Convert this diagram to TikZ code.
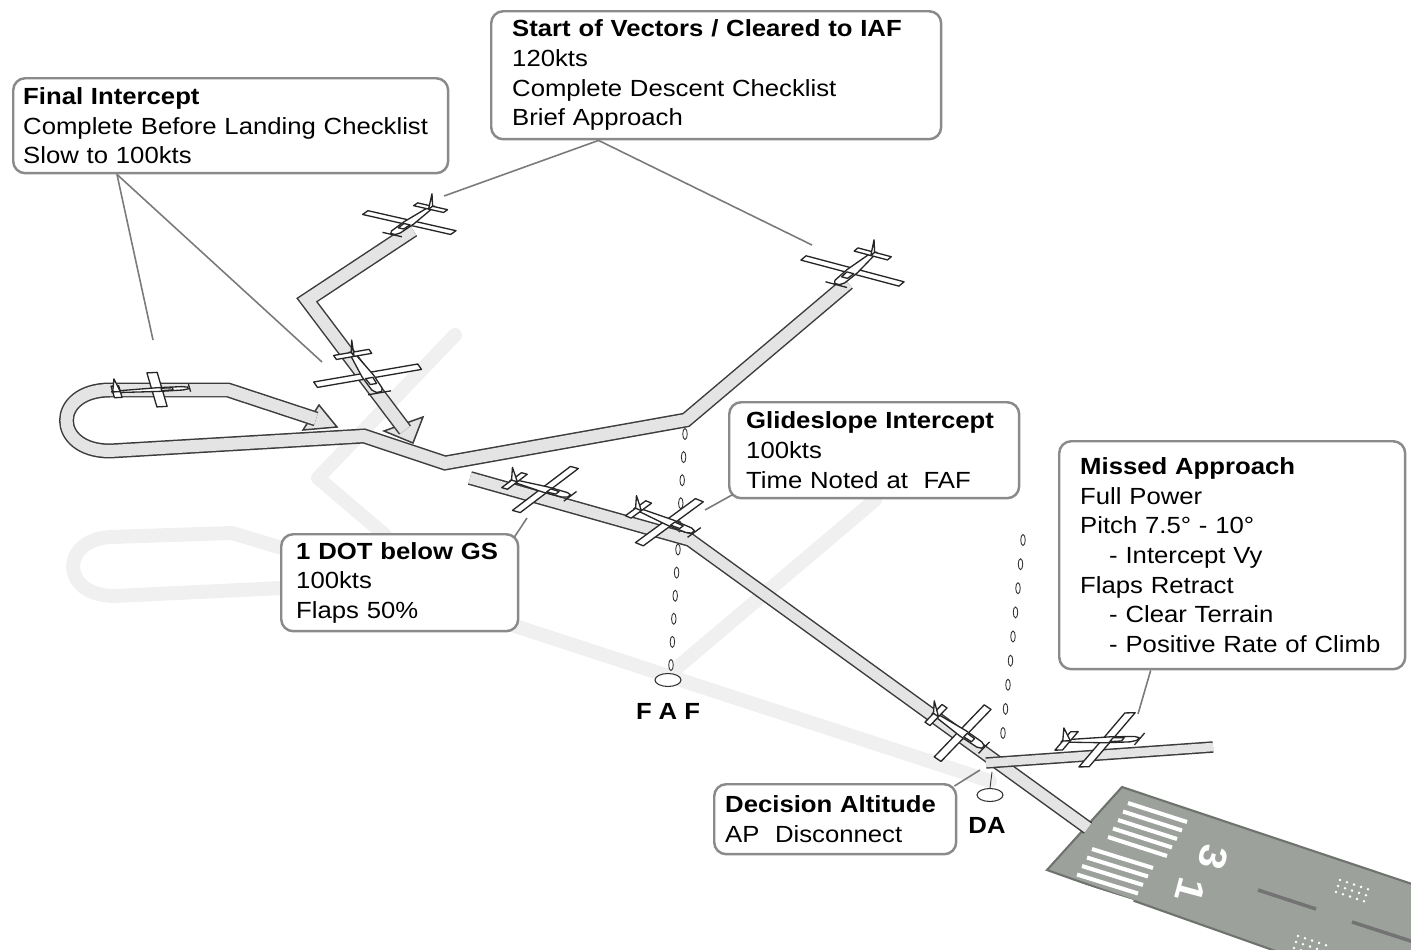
\documentclass[tikz,border=0pt]{standalone}
\usepackage{fontspec}
\setmainfont{Liberation Sans}[FakeStretch=1.1]
\usepackage{tikz}
\usetikzlibrary{shapes.geometric, positioning, calc}

\definecolor{shadowgray}{HTML}{F0F0F0}
\definecolor{ribbonfill}{HTML}{E4E4E4}
\definecolor{ribbonedge}{HTML}{3C3C3C}
\definecolor{boxedge}{HTML}{8A8A8A}
\definecolor{leadergray}{HTML}{7A7A7A}
\definecolor{runway}{HTML}{9CA19C}
\definecolor{runwayedge}{HTML}{6E736E}

\newcommand{\boxfont}{\fontsize{13.3}{16.9}\selectfont}

\tikzset{
  shadowpath/.style={draw=shadowgray, line width=0.28cm, line cap=round, line join=round},
  ribbon/.style={preaction={draw=ribbonedge, line width=#1+1.7pt}, draw=ribbonfill, line width=#1},
  ribbon/.default=0.24cm,
  ribbonhead/.style={fill=ribbonfill, draw=ribbonedge, line width=0.85pt, line join=miter},
  callout/.style={draw=boxedge, line width=1.4pt, rounded corners=0.24cm, fill=white,
    align=left, anchor=north west, inner ysep=0pt, font=\boxfont},
  leader/.style={draw=leadergray, line width=0.9pt},
  marker/.style={draw=black!80, fill=white, line width=0.5pt},
  oval/.style={draw=black!80, fill=white, ellipse, line width=0.6pt, inner sep=0pt,
    minimum width=0.52cm, minimum height=0.26cm},
  marklabel/.style={font=\boxfont\bfseries, inner sep=0pt},
  barwhite/.style={draw=white, line width=2.3pt},
  rwydigit/.style={rotate=-105, text=white, inner sep=0pt, font=\bfseries\fontsize{22}{22}\selectfont},
  planeline/.style={draw=black!85, fill=white, line width=0.75pt, line join=round},
  pics/plane/.style n args={4}{code={
    \begin{scope}[x={({#1*0.02cm},{-#2*0.02cm})}, y={({#3*0.02cm},{-#4*0.02cm})}]
      % wing
      \draw[planeline] (0.05,-1) -- (0.32,-1) -- (0.32,1) -- (0.05,1) -- cycle;
      % fuselage
      \draw[planeline] (-1,0.04) -- (0.2,0.11) -- (0.85,0.1) -- (1,0.05) -- (1,-0.05)
        -- (0.85,-0.1) -- (0.2,-0.11) -- (-1,-0.04) -- cycle;
      \draw[planeline] (0.3,-0.07) -- (0.6,-0.06) -- (0.6,0.06) -- (0.3,0.07) -- cycle;
      % tail
      \draw[planeline] (-0.98,-0.34) -- (-0.78,-0.34) -- (-0.78,0.34) -- (-0.98,0.34) -- cycle;
      \draw[planeline] (1.04,-0.22) -- (1.04,0.22);
    \end{scope}
    \draw[planeline] ({-0.98*#1},{-0.98*#2}) -- ({-0.95*#1},{-0.95*#2-13})
      -- ({-0.78*#1},{-0.78*#2}) -- cycle;
  }}
}

\begin{document}
\begin{tikzpicture}[x=0.02cm, y=-0.02cm]
\useasboundingbox (0,0) rectangle (1411,950);

% shadows on the ground
\draw[shadowpath] (455,335) -- (318,478) -- (385,535);
\draw[shadowpath] (282,548) -- (232,533) -- (110,537) .. controls (60,540) and (60,596) .. (115,596) -- (282,588);
\draw[shadowpath] (515,626) -- (990,781);
\draw[shadowpath] (875,500) -- (672,672);

% runway
\begin{scope}
  \clip (0,0) rectangle (1411,950);
  \filldraw[fill=runway, draw=runwayedge, line width=1.2pt]
    (1047,870) -- (1122,787) -- (1430,890) -- (1430,970) -- (1329,970) -- cycle;
  \foreach \k in {0,...,4} {
    \draw[barwhite] ({1128-5*\k},{803+8.5*\k}) -- ++(59,19);
    \draw[barwhite] ({1092-5*\k},{849+8.5*\k}) -- ++(61,19);
  }
  \node[rwydigit] (rwythree) at (1213,857) {3};
  \node[rwydigit] (rwyone) at (1190,890) {1};
  \foreach \r in {0,1,2}
    \foreach \c in {0,...,4} {
      \fill[white] ({1340+7*\c-2*\r},{880+2.3*\c+6*\r}) circle (0.028cm);
      \fill[white] ({1298+7*\c-2*\r},{936+2.3*\c+6*\r}) circle (0.028cm);
    }
  \draw[draw=black!55, line width=2pt] (1258,890) -- (1316,909);
  \draw[draw=black!55, line width=2pt] (1352,922) -- (1420,944);
\end{scope}

% flight path
\draw[ribbon=0.22cm] (470,478) -- (690,540) -- (1088,828);
\draw[ribbon=0.17cm] (986,763) -- (1213,747);
\filldraw[ribbonhead] (319,405) -- (337,427) -- (303,430) -- cycle;
\filldraw[ribbonhead] (384,431) -- (413,443) -- (423,417) -- cycle;
\draw[ribbon] (848,283) -- (686,420) -- (445,463) -- (364,436) -- (110,451)
  .. controls (52,451) and (52,390) .. (110,390) -- (228,390) -- (316,419);
\draw[ribbon] (413,230) -- (307,300) -- (405,430);

% FAF and DA markers
\coordinate (faftop) at (685,434);
\coordinate (fafbot) at (671,665);
\foreach \k in {0,...,10}
  \draw[marker] ($(faftop)!\k/10!(fafbot)$) ellipse [x radius=0.045cm, y radius=0.11cm];
\coordinate (datop) at (1023,540);
\coordinate (dabot) at (1003,733);
\foreach \k in {0,...,8}
  \draw[marker] ($(datop)!\k/8!(dabot)$) ellipse [x radius=0.045cm, y radius=0.11cm];
\node[oval] (fafoval) at (668,680) {};
\node[marklabel] (faflabel) at (668,711) {F\hspace{0.3em}A\hspace{0.3em}F};
\coordinate (dastem) at (992,772);
\node[oval] (daoval) at (990,795) {};
\draw[marker] (dastem) -- (daoval.north);
\node[marklabel] (dalabel) at (987,825) {DA};

% callouts
\node[callout, minimum width=8.7cm, minimum height=1.9cm, text width=8.3cm, inner xsep=0.2cm]
  (intercept) at (12,77) {\textbf{Final Intercept}\\Complete Before Landing Checklist\\Slow to 100kts};
\node[callout, minimum width=9cm, minimum height=2.56cm, text width=8.16cm, inner xsep=0.42cm]
  (vectors) at (490,10) {\textbf{Start of Vectors / Cleared to IAF}\\120kts\\Complete Descent Checklist\\Brief Approach};
\node[callout, minimum width=5.8cm, minimum height=1.92cm, text width=5.12cm, inner xsep=0.34cm]
  (glideslope) at (728,401) {\textbf{Glideslope Intercept}\\100kts\\Time Noted at\ \ FAF};
\node[callout, minimum width=4.74cm, minimum height=1.94cm, text width=4.14cm, inner xsep=0.3cm]
  (dotbelow) at (280,533) {\textbf{1 DOT below GS}\\100kts\\Flaps 50\%};
\node[callout, minimum width=6.92cm, minimum height=4.56cm, text width=6.08cm, inner xsep=0.42cm]
  (missed) at (1058,440) {\textbf{Missed Approach}\\Full Power\\Pitch 7.5° - 10°\\\hspace*{0.58cm}- Intercept Vy\\Flaps Retract\\\hspace*{0.58cm}- Clear Terrain\\\hspace*{0.58cm}- Positive Rate of Climb};
\node[callout, minimum width=4.84cm, minimum height=1.4cm, text width=4.4cm, inner xsep=0.22cm]
  (decision) at (713,783) {\textbf{Decision Altitude}\\AP\ \ Disconnect};

% leader lines
\coordinate (p1tag) at (153,340);
\coordinate (p3tag) at (322,362);
\coordinate (p2tag) at (444,196);
\coordinate (p4tag) at (812,245);
\coordinate (p6tag) at (705,510);
\coordinate (p5tag) at (527,518);
\coordinate (p8tag) at (1138,714);
\coordinate (p7tag) at (980,770);
\coordinate (interceptfoot) at ($(intercept.south west)!0.24!(intercept.south east)$);
\coordinate (vectorsfoot) at ($(vectors.south west)!0.24!(vectors.south east)$);
\coordinate (missedfoot) at ($(missed.south west)!0.266!(missed.south east)$);
\draw[leader] (interceptfoot) -- (p1tag);
\draw[leader] (interceptfoot) -- (p3tag);
\draw[leader] (vectorsfoot) -- (p2tag);
\draw[leader] (vectorsfoot) -- (p4tag);
\draw[leader] ($(glideslope.south west)+(5,-5)$) -- (p6tag);
\draw[leader] ($(dotbelow.north east)+(-5,4)$) -- (p5tag);
\draw[leader] (missedfoot) -- (p8tag);
\draw[leader] ($(decision.north east)+(-3,3)$) -- (p7tag);

% aircraft
\pic at (150,390) {plane={38}{-2}{5}{17}};
\pic at (413,220) {plane={-20}{14}{44}{10}};
\pic at (365,372) {plane={14}{20}{52}{-9}};
\pic at (856,268) {plane={-19}{16}{49}{13}};
\pic at (540,488) {plane={29}{8}{29}{-22}};
\pic at (664,520) {plane={29}{12}{30}{-22}};
\pic at (958,730) {plane={25}{17}{25}{-26}};
\pic at (1100,740) {plane={38}{-1}{23}{-27}};
\end{tikzpicture}
\end{document}
